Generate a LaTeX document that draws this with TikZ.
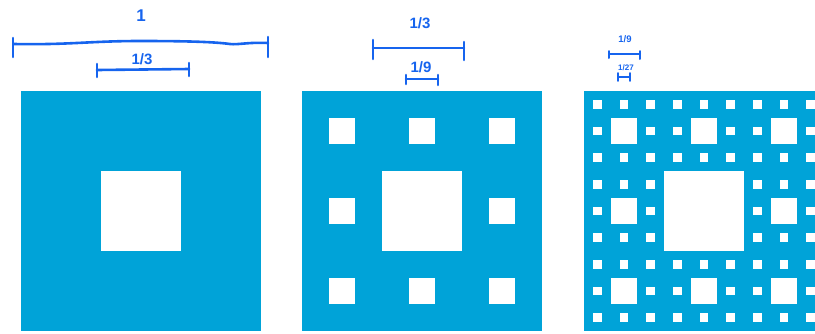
\documentclass[tikz,border=0pt]{standalone}
\usepackage{fontspec}
\setmainfont{Liberation Sans}
\definecolor{carpet}{RGB}{0,163,216}
\definecolor{ink}{RGB}{22,100,238}
\newcommand\drawcarpet[3]{%
  \fill[carpet] (#1,#2) rectangle ++(240,240);
  \foreach \k in {1,...,#3}{%
    \pgfmathsetmacro\s{240/3^\k}%
    \pgfmathtruncatemacro\n{3^(\k-1)-1}%
    \foreach \i in {0,...,\n}{\foreach \j in {0,...,\n}{%
      \fill[white] ({#1+(3*\i+1)*\s},{#2+(3*\j+1)*\s}) rectangle ++(\s,\s);
    }}%
  }%
}
\tikzset{
  pen/.style={draw=ink, line width=2.6pt, line cap=round, line join=round},
  hand/.style={text=ink, inner sep=0pt, font=\bfseries\fontsize{#1}{#1}\selectfont},
}
\begin{document}
\begin{tikzpicture}[x=1pt,y=-1pt]
\useasboundingbox (0,0) rectangle (815,333);
\begin{scope}
\clip (0,0) rectangle (815,333);
\drawcarpet{21}{91}{1}
\drawcarpet{302}{91}{2}
\drawcarpet{584}{91}{3}
\end{scope}

% panel 1 annotations
\node[hand=17] (t1) at (141,16) {1};
\coordinate (a1) at (14,44);
\coordinate (b1) at (268,43);
\draw[pen] (a1) .. controls (70,45) and (90,41) .. (140,41) .. controls (190,41) and (215,42) .. (230,44) .. controls (238,45) and (248,42) .. (b1);
\draw[pen] (13,38) -- (13,57);
\draw[pen] (268,37) -- (268,57);
\node[hand=15] (t2) at (142,59) {1/3};
\coordinate (a2) at (97,70);
\coordinate (b2) at (189,69);
\draw[pen] (a2) -- (b2);
\draw[pen] (a2) ++(0,-6) -- ++(0,13);
\draw[pen] (b2) ++(0,-6) -- ++(0,13);

% panel 2 annotations
\node[hand=15] (t3) at (420,23) {1/3};
\coordinate (a3) at (373,48);
\coordinate (b3) at (464,48);
\draw[pen] (a3) -- (b3);
\draw[pen] (a3) ++(0,-8) -- ++(0,19);
\draw[pen] (b3) ++(0,-6) -- ++(0,18);
\node[hand=15] (t4) at (421,67) {1/9};
\coordinate (a4) at (406,79);
\coordinate (b4) at (438,79);
\draw[pen] (a4) -- (b4);
\draw[pen] (a4) ++(0,-4) -- ++(0,9);
\draw[pen] (b4) ++(0,-4) -- ++(0,10);

% panel 3 annotations
\node[hand=9.5] (t5) at (625,39) {1/9};
\coordinate (a5) at (609,54);
\coordinate (b5) at (640,54);
\draw[pen, line width=2pt] (a5) -- (b5);
\draw[pen, line width=2pt] (a5) ++(0,-3) -- ++(0,7);
\draw[pen, line width=2pt] (b5) ++(0,-3) -- ++(0,8);
\node[hand=8] (t6) at (626,68) {1/27};
\coordinate (a6) at (618,77);
\coordinate (b6) at (630,77);
\draw[pen, line width=1.8pt] (a6) -- (b6);
\draw[pen, line width=1.8pt] (a6) ++(0,-4) -- ++(0,8);
\draw[pen, line width=1.8pt] (b6) ++(0,-4) -- ++(0,8);
\end{tikzpicture}
\end{document}
